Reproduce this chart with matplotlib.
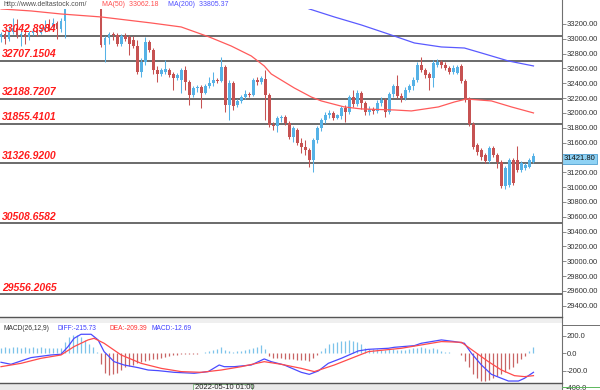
#!/usr/bin/env python3
"""Hourly candlestick chart with support/resistance levels, MA(50)/MA(200) and a MACD panel."""

import numpy as np
import matplotlib
matplotlib.use("Agg")  # headless
import matplotlib.pyplot as plt
from matplotlib.patches import Rectangle
from matplotlib.lines import Line2D

plt.rcParams["font.family"] = ["Liberation Sans", "DejaVu Sans"]

W, H = 600, 390  # output size in pixels

# ---- price data (hourly candles) --------------------------------------
opens = [33024, 33064, 32997, 33091, 33145, 33051, 33064, 33024, 33078, 33105,
         33078, 33118, 33199, 33172, 33213, 33132, 33240, 33480, 33570, 33660,
         33720, 33820, 33790, 33850, 33810, 33780, 32917, 33011, 33065, 33052,
         32930, 33038, 33025, 32984, 32903, 32553, 32688, 32957, 32850, 32580,
         32526, 32553, 32580, 32526, 32472, 32445, 32580, 32418, 32242, 32337,
         32350, 32269, 32364, 32404, 32445, 32431, 32620, 32107, 32404, 32107,
         32161, 32215, 32256, 32242, 32445, 32418, 32458, 32242, 31838, 31824,
         31932, 31946, 31865, 31676, 31770, 31595, 31541, 31500, 31366, 31635,
         31797, 31905, 31972, 32000, 31932, 31959, 32067, 32013, 32215, 32121,
         32269, 32135, 32013, 32054, 32027, 32135, 32175, 32013, 32256, 32364,
         32229, 32202, 32310, 32364, 32445, 32647, 32580, 32526, 32472, 32647,
         32688, 32647, 32607, 32553, 32539, 32634, 32431, 32188, 31851, 31568,
         31500, 31433, 31352, 31527, 31433, 31339, 31015, 31028, 31366, 31366,
         31231, 31258, 31271, 31339]
highs = [33091, 33105, 33172, 33280, 33267, 33105, 33118, 33105, 33145, 33145,
         33159, 33253, 33267, 33280, 33240, 33280, 33520, 33600, 33690, 33760,
         33850, 33900, 33880, 33920, 33860, 33800, 33038, 33092, 33092, 33079,
         33065, 33079, 33052, 33038, 32984, 32742, 33025, 32984, 32876, 32634,
         32607, 32715, 32607, 32553, 32539, 32607, 32634, 32445, 32364, 32377,
         32377, 32391, 32485, 32553, 32472, 32755, 32647, 32445, 32431, 32188,
         32242, 32310, 32283, 32472, 32485, 32499, 32580, 32269, 31878, 31959,
         31972, 31972, 31892, 31824, 31797, 31662, 31635, 31527, 31662, 31824,
         31932, 32013, 32040, 32027, 31986, 32094, 32107, 32242, 32310, 32310,
         32296, 32161, 32094, 32081, 32175, 32215, 32202, 32283, 32391, 32512,
         32269, 32350, 32391, 32485, 32688, 32755, 32607, 32553, 32715, 32728,
         32715, 32688, 32634, 32647, 32647, 32661, 32458, 32215, 31878, 31595,
         31527, 31460, 31554, 31554, 31460, 31366, 31285, 31393, 31393, 31554,
         31352, 31325, 31393, 31460]
lows = [32956, 32929, 32970, 33064, 33010, 32902, 32929, 32983, 33051, 33037,
        33064, 33091, 33105, 33132, 32997, 33091, 33010, 33440, 33540, 33610,
        33700, 33760, 33730, 33780, 33740, 32890, 32688, 32930, 32984, 32903,
        32903, 32971, 32782, 32876, 32526, 32485, 32647, 32822, 32526, 32418,
        32499, 32526, 32485, 32310, 32445, 32269, 32310, 32107, 32215, 32283,
        32067, 32256, 32337, 32364, 32404, 32418, 32013, 31905, 32040, 32081,
        32135, 32188, 32215, 32229, 32377, 32391, 31905, 31811, 31770, 31743,
        31878, 31838, 31649, 31608, 31568, 31460, 31433, 31271, 31204, 31595,
        31757, 31865, 31932, 31905, 31919, 31919, 31878, 31986, 32081, 32094,
        32054, 31972, 31972, 31986, 32000, 32094, 31946, 31986, 32215, 32202,
        32148, 32175, 32283, 32310, 32418, 32553, 32472, 32310, 32350, 32620,
        32607, 32580, 32526, 32526, 32526, 32404, 32148, 31824, 31514, 31433,
        31366, 31325, 31325, 31406, 31258, 30988, 30974, 31001, 31028, 31204,
        31204, 31231, 31258, 31325]
closes = [33064, 32997, 33091, 33145, 33051, 33064, 33024, 33078, 33105, 33078,
          33118, 33159, 33145, 33213, 33132, 33240, 33480, 33570, 33660, 33720,
          33820, 33790, 33850, 33810, 33780, 32917, 33011, 33065, 33052, 32930,
          33038, 32998, 32930, 32903, 32553, 32688, 32957, 32850, 32580, 32526,
          32580, 32593, 32512, 32472, 32512, 32580, 32418, 32242, 32337, 32350,
          32269, 32364, 32404, 32445, 32431, 32620, 32107, 32404, 32094, 32161,
          32215, 32256, 32242, 32445, 32418, 32472, 32242, 31838, 31824, 31932,
          31946, 31865, 31676, 31797, 31595, 31541, 31500, 31366, 31635, 31797,
          31905, 31972, 32000, 31932, 31972, 32067, 32013, 32215, 32121, 32269,
          32135, 32013, 32054, 32027, 32135, 32175, 32013, 32256, 32364, 32229,
          32202, 32310, 32364, 32445, 32647, 32580, 32512, 32472, 32674, 32688,
          32647, 32607, 32553, 32607, 32620, 32431, 32175, 31851, 31541, 31473,
          31406, 31352, 31527, 31433, 31339, 31015, 31258, 31366, 31055, 31231,
          31325, 31298, 31366, 31421.80]

# moving averages, read as points along each curve (candle index, price)
ma50_idx = [0, 7.5, 15, 25, 37.5, 45, 52, 57.5, 62.5, 65.75, 67.5, 73.25,
            77.5, 80, 85.75, 90, 98.25, 102.5, 109.25, 113.25, 116.25, 122.5,
            127.5, 133]
ma50_val = [33403, 33376, 33335, 33295, 33214, 33160, 33025, 32903, 32769,
            32634, 32526, 32337, 32215, 32162, 32081, 32054, 32040, 32027,
            32081, 32148, 32188, 32162, 32081, 32000]
ma200_idx = [74, 77, 83.25, 90, 96.75, 103.25, 110, 115.75, 120, 126.75, 133]
ma200_val = [33470, 33403, 33295, 33187, 33065, 32944, 32890, 32876, 32809,
             32701, 32634]

levels = [33042.8984, 32707.1504, 32188.7207, 31855.4101, 31326.9200,
          30508.6582, 29556.2065]
price_ticks = [33200, 33000, 32800, 32600, 32400, 32200, 32000, 31800, 31600,
               31200, 31000, 30800, 30600, 30400, 30200, 30000, 29800, 29600,
               29400]

# ---- MACD panel ------------------------------------------------------
macd_hist = [60, 70, 55, 75, 70, 65, 75, 60, 70, 65, 70, 60, 65, 55, 60, 65,
             130, 190, 210, 205, 190, 150, 110, 70, 20,
             -120, -220, -245, -240, -225, -190, -160, -140, -130, -115,
             -100, -90, -80, -70, -60, -55, -45, -30, -20, -15,
             -8, -10, -12, -8, -5, 5, 15, 25, 35, 50,
             70, 40, 30, 20, 25, 30, 40, 45, 55, 70,
             90, 45, -30, -50, -55, -55, -60, -70, -65, -75,
             -75, -80, -85, -55, -20, 30, 60, 100, 120, 130,
             140, 145, 150, 140, 130, 100, 60, 50, 45, 45,
             40, 40, 45, 45, 40, 35, 40, 45, 55, 65,
             70, 60, 50, 55, 45, 30, 20, 10, 5, 5,
             -25, -90, -160, -230, -280, -320, -320, -300, -280, -260,
             -240, -210, -180, -160, -110, -60, -30, 30, 70]
diff_idx = [0, 2.5, 7.5, 12.5, 15, 16.75, 18.25, 20, 22.5, 24.25, 25.75, 28.25,
            30.75, 34.25, 36.75, 39.25, 43.25, 48.25, 51.75, 54.5, 55.75, 58.25,
            62.5, 65.75, 67.5, 70.75, 75, 77, 79.25, 81.75, 85, 89.25, 91.75,
            96.75, 98.25, 103.25, 105, 110, 113.25, 115.75, 117.5, 120, 122.5,
            125, 126.75, 129.25, 130.75, 133]
diff_val = [-102, -125, -49, -19, -11, 76, 170, 216, 216, 152, 19, -95,
            -133, -163, -190, -197, -216, -227, -208, -133, -152, -152,
            -133, -64, -95, -133, -216, -239, -201, -114, -57, 27, 45,
            57, 68, 87, 114, 152, 133, 114, 0, -133, -239,
            -284, -315, -315, -284, -216]
dea_idx = [0, 5, 10, 15, 18.25, 21.75, 23.25, 25.75, 30, 35, 40, 45, 50, 55, 60,
           65.75, 70, 75, 78.25, 83.25, 91.75, 100, 105, 110, 115, 118.25,
           121.75, 125, 128.25, 130.75, 133]
dea_val = [-152, -114, -57, -19, 76, 152, 170, 114, -19, -114, -171, -208,
           -216, -190, -152, -95, -125, -171, -208, -133, 19, 57, 95, 133, 125,
           19, -95, -190, -254, -265, -254]
macd_ticks = [200, 0, -200]

BULL = "#56b2e6"
BEAR = "#c65252"
LEVEL = "#6a6a6a"
FRAME = "#555555"
XLIM = (-0.25, 140.0)


def fx(px):
    return px / W


def fy(py):
    return 1.0 - py / H


def fig_line(fig, xs, ys, color, lw):
    fig.add_artist(Line2D([fx(x) for x in xs], [fy(y) for y in ys],
                          transform=fig.transFigure, color=color, lw=lw))


def main():
    fig = plt.figure(figsize=(W / 100, H / 100), dpi=100)
    fig.patch.set_facecolor("white")

    # ---------------- main price panel ----------------
    ax = fig.add_axes([0, fy(317), fx(561.5), fy(8.5) - fy(317)])
    ax.set_xlim(*XLIM)
    ax.set_ylim(29247, 33409)
    for s in ax.spines.values():
        s.set_visible(False)
    ax.set_xticks([])

    o = np.array(opens, float)
    c = np.array(closes, float)
    idx = np.arange(len(c))
    cols = [BULL if cc >= oo else BEAR for oo, cc in zip(o, c)]
    ax.vlines(idx, lows, highs, colors=cols, lw=0.75, zorder=3)
    ax.bar(idx, c - o, bottom=o, width=0.7, color=cols, lw=0, zorder=3)

    for lvl in levels:
        ax.axhline(lvl, color=LEVEL, lw=1.4, zorder=2)
        ax.annotate(f"{lvl:.4f}", xy=(0, lvl), xycoords=("axes fraction", "data"),
                    xytext=(2, 3.5), textcoords="offset pixels", ha="left",
                    va="baseline", fontsize=7.5, fontweight="bold",
                    fontstyle="italic", color="#ff1c1c", zorder=6)

    ax.plot(ma50_idx, ma50_val, color="#ff5a5a", lw=0.9, zorder=4)
    ax.plot(ma200_idx, ma200_val, color="#5a5aff", lw=0.9, zorder=4)

    ax.yaxis.tick_right()
    ax.set_yticks(price_ticks)
    ax.set_yticklabels([f"{t:.2f}" for t in price_ticks])
    ax.tick_params(axis="y", direction="out", length=3, width=0.6,
                   color="#777777", labelsize=5.5, labelcolor="#333333", pad=1)

    ax.annotate(f"{closes[-1]:.2f}", xy=(1, closes[-1]),
                xycoords=("axes fraction", "data"), xytext=(2, -3),
                textcoords="offset pixels", ha="left", va="center",
                fontsize=5.5, color="#111111", annotation_clip=False, zorder=10,
                bbox=dict(boxstyle="square,pad=0.18", fc="#8fd2f4",
                          ec="#4f9fd0", lw=0.6))

    # ---------------- MACD panel ----------------
    mx = fig.add_axes([0, fy(382), fx(561.5), fy(323) - fy(382)])
    mx.set_xlim(*XLIM)
    mx.set_ylim(-326, 344)
    for s in mx.spines.values():
        s.set_visible(False)
    mx.set_xticks([])
    hcols = ["#7cc3ea" if v >= 0 else "#c86464" for v in macd_hist]
    mx.vlines(np.arange(len(macd_hist)), 0, macd_hist, colors=hcols, lw=0.9)
    mx.plot(diff_idx, diff_val, color="#4b4bff", lw=0.9)
    mx.plot(dea_idx, dea_val, color="#ff4b4b", lw=0.9)
    mx.yaxis.tick_right()
    mx.set_yticks(macd_ticks)
    mx.set_yticklabels([f"{t:.1f}" for t in macd_ticks])
    mx.tick_params(axis="y", direction="out", length=3, width=0.6,
                   color="#777777", labelsize=5.5, labelcolor="#333333", pad=1)
    # the lowest scale label sits on the window edge and is cut off, as in MT4
    mx.annotate("-400.0", xy=(1, -400), xycoords=("axes fraction", "data"),
                xytext=(4, 0), textcoords="offset pixels", ha="left",
                va="center", fontsize=5.5, color="#333333",
                annotation_clip=False)

    # ---------------- frame, bands and labels ----------------
    fig.add_artist(Rectangle((0, fy(323)), fx(561.5), fy(318) - fy(323),
                             transform=fig.transFigure, fc="#efefef", lw=0))
    fig.add_artist(Rectangle((0, 0), fx(561.5), fy(383),
                             transform=fig.transFigure, fc="#e9e9e9", lw=0))
    fig_line(fig, [561.5, 561.5], [0, 390], "#707070", 0.8)
    fig_line(fig, [0, 561.5], [317, 317], FRAME, 1.0)
    fig_line(fig, [0, 561.5], [382.5, 382.5], FRAME, 1.0)
    fig_line(fig, [561.5, 600], [324.5, 324.5], "#707070", 0.7)
    fig_line(fig, [561.5, 600], [386.5, 386.5], "#5cb85c", 0.7)

    fig.add_artist(Rectangle((fx(193), 0), fx(59), fy(383.5),
                             transform=fig.transFigure, fc="#f6f6f6",
                             ec="#78b878", lw=0.6))
    fig.text(fx(195), fy(387.5), "2022-05-10 01:00", fontsize=5.5,
             color="#222222", ha="left", va="center")

    fig.text(fx(3), fy(5), "http://www.deltastock.com/", fontsize=5,
             color="#505050", ha="left", va="center")
    fig.text(fx(102), fy(5), "MA(50)  33062.18", fontsize=5,
             color="#ff5050", ha="left", va="center")
    fig.text(fx(168), fy(5), "MA(200)  33805.37", fontsize=5,
             color="#5050ff", ha="left", va="center")

    fig.text(fx(3), fy(328.5), "MACD(26,12,9)", fontsize=4.8, color="#333333",
             ha="left", va="center")
    fig.text(fx(57), fy(328.5), "DIFF:-215.73", fontsize=4.8, color="#4040ff",
             ha="left", va="center")
    fig.text(fx(110), fy(328.5), "DEA:-209.39", fontsize=4.8, color="#ff3030",
             ha="left", va="center")
    fig.text(fx(151), fy(328.5), "MACD:-12.69", fontsize=4.8, color="#4040ff",
             ha="left", va="center")

    fig.savefig("out.png", dpi=100)
    plt.close(fig)
    return 0


if __name__ == "__main__":
    raise SystemExit(main())
